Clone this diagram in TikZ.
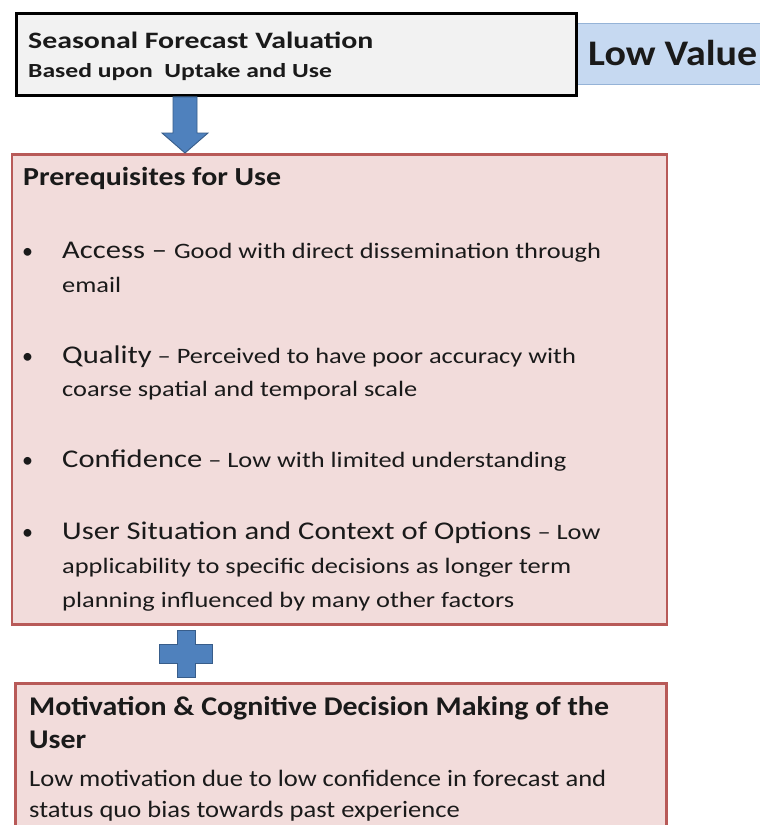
\documentclass[tikz,border=0pt]{standalone}
\usepackage{graphicx}
\usepackage{fontspec}
\setmainfont{Carlito}
\usetikzlibrary{calc}
\definecolor{boxgray}{HTML}{F2F2F2}
\definecolor{valblue}{HTML}{C6D9F1}
\definecolor{valedge}{HTML}{95B3D7}
\definecolor{arrfill}{HTML}{4F81BD}
\definecolor{arredge}{HTML}{385D8A}
\definecolor{pinkfill}{HTML}{F2DCDB}
\definecolor{pinkedge}{HTML}{B85A58}
\definecolor{ink}{HTML}{1A1A1A}
\tikzset{
  panel/.style={draw=pinkedge, fill=pinkfill, line width=2.6pt, inner sep=0pt, anchor=north west},
  txt/.style={anchor=base west, inner sep=0pt, text=ink},
  blockshape/.style={fill=arrfill, draw=arredge, line width=0.9pt, line join=miter},
}
\newcommand{\fs}[1]{\fontsize{#1}{#1}\selectfont}
% horizontally widened lettering
\newcommand{\wide}[2]{\scalebox{#1}[1]{#2}}
\begin{document}
\begin{tikzpicture}[x=1pt,y=-1pt]
\useasboundingbox (0,0) rectangle (760,825);
\clip (0,0) rectangle (760,825);
\fill[white] (0,0) rectangle (760,825);

% value tag on the right
\node[draw=valedge, fill=valblue, line width=1pt, anchor=north west, minimum width=200pt, minimum height=61pt, inner sep=0pt] (val) at (575,23) {};
\node[txt] (valtxt) at (588,65) {\wide{1.11}{\fs{36}\bfseries Low Value}};

% heading box
\node[draw=black, fill=boxgray, line width=2.8pt, anchor=north west, minimum width=560pt, minimum height=82pt, inner sep=0pt] (top) at (15,12) {};
\node[txt] (t1) at (28,48) {\wide{1.27}{\fs{23.5}\bfseries Seasonal Forecast Valuation}};
\node[txt] (t2) at (28,77) {\wide{1.28}{\fs{20}\bfseries Based upon\ \ Uptake and Use}};

% prerequisites panel
\node[panel, minimum width=655pt, minimum height=470pt] (pre) at (10.5,153) {};
\node[txt] (p0) at (23,185) {\wide{1.15}{\fs{26}\bfseries Prerequisites for Use}};

\node[txt] (b1) at (22,258) {\fs{22}•};
\node[txt] (l1) at (62,258) {\wide{1.2}{\fs{25.5}Access \textendash\ \fs{22}Good with direct dissemination through}};
\node[txt] (l1b) at (62,292) {\wide{1.2}{\fs{22}email}};

\node[txt] (b2) at (22,363) {\fs{22}•};
\node[txt] (l2) at (62,363) {\wide{1.2}{\fs{25.5}Quality\fs{22} \textendash\ Perceived to have poor accuracy with}};
\node[txt] (l2b) at (62,396) {\wide{1.2}{\fs{22}coarse spatial and temporal scale}};

\node[txt] (b3) at (22,467) {\fs{22}•};
\node[txt] (l3) at (62,467) {\wide{1.2}{\fs{25.5}Confidence\fs{22} \textendash\ Low with limited understanding}};

\node[txt] (b4) at (22,539) {\fs{22}•};
\node[txt] (l4) at (62,539) {\wide{1.2}{\fs{25.5}User Situation and Context of Options\fs{22} \textendash\ Low}};
\node[txt] (l4b) at (62,573) {\wide{1.2}{\fs{22}applicability to specific decisions as longer term}};
\node[txt] (l4c) at (62,607) {\wide{1.2}{\fs{22}planning influenced by many other factors}};

% decision-making panel, running off the bottom edge
\node[panel, minimum width=651pt, minimum height=170pt] (mot) at (14,682) {};
\node[txt] (m1) at (29,715) {\wide{1.107}{\fs{27}\bfseries Motivation \& Cognitive Decision Making of the}};
\node[txt] (m2) at (29,748) {\wide{1.107}{\fs{27}\bfseries User}};
\node[txt] (m3) at (29,786) {\wide{1.13}{\fs{23.5}Low motivation due to low confidence in forecast and}};
\node[txt] (m4) at (29,817) {\wide{1.13}{\fs{23.5}status quo bias towards past experience}};

% block arrow from the heading down to the prerequisites
\coordinate (aS) at (185,0 |- top.south);
\coordinate (aE) at (185,0 |- pre.north);
\draw[blockshape]
  ($(aS)+(-12,0)$) -- ($(aS)+(12,0)$) -- ($(aE)+(12,-20)$) -- ($(aE)+(23,-20)$)
  -- (aE) -- ($(aE)+(-23,-20)$) -- ($(aE)+(-12,-20)$) -- cycle;

% plus sign joining the two panels
\coordinate (pc) at ($(186,0 |- pre.south)!0.5!(186,0 |- mot.north)$);
\draw[blockshape]
  ($(pc)+(-9,-23.5)$) -- ($(pc)+(9,-23.5)$) -- ($(pc)+(9,-9.5)$) -- ($(pc)+(26.5,-9.5)$)
  -- ($(pc)+(26.5,9.5)$) -- ($(pc)+(9,9.5)$) -- ($(pc)+(9,23.5)$) -- ($(pc)+(-9,23.5)$)
  -- ($(pc)+(-9,9.5)$) -- ($(pc)+(-26.5,9.5)$) -- ($(pc)+(-26.5,-9.5)$) -- ($(pc)+(-9,-9.5)$) -- cycle;
\end{tikzpicture}
\end{document}
